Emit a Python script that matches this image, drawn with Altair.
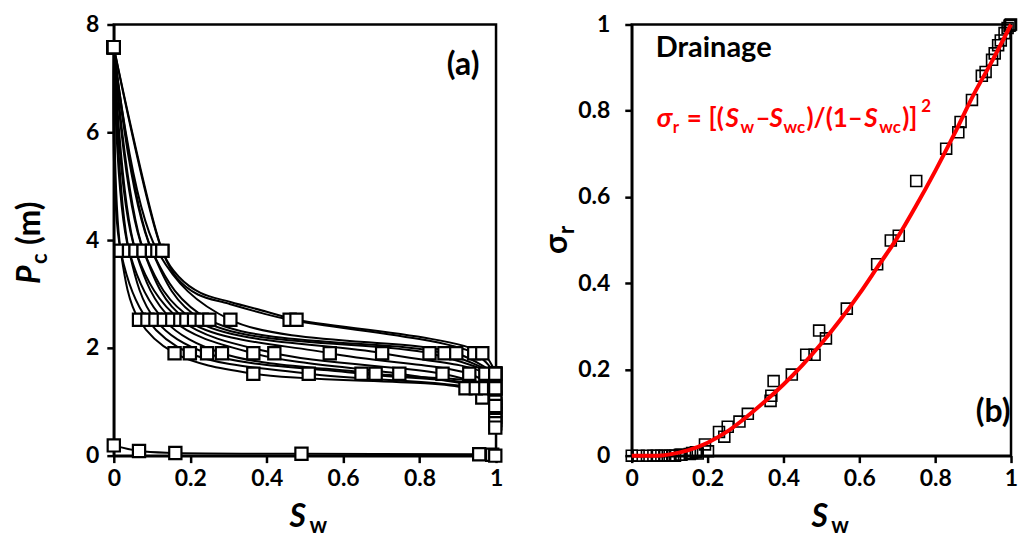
import altair as alt
import pandas as pd

FONT = "Lato"

# ---------------- Panel (a): capillary pressure curves ----------------
PC_TOP = 7.58
PC_LEVELS = [3.8, 2.52, 1.9, 1.52, 1.25]
SW_380 = [0.018, 0.018, 0.040, 0.040, 0.057, 0.057, 0.078, 0.078, 0.100, 0.100, 0.114, 0.127, 0.127]
SW_252 = [0.066, 0.088, 0.109, 0.131, 0.153, 0.174, 0.190, 0.210, 0.230, 0.250, 0.305, 0.460, 0.478]
SW_190 = [0.159, 0.199, 0.244, 0.283, 0.365, 0.420, 0.565, 0.702, 0.826, 0.865, 0.896, 0.943, 0.964]
SW_152 = [0.365, 0.510, 0.648, 0.685, 0.747, 0.860, 0.930, 0.972, 0.998, 0.998, 0.998, 0.998, 0.998]
SW_125 = [0.920, 0.947, 0.972, 0.995, 0.998, 0.998, 0.998, 0.998, None, None, None, None, None]

# line-only points (between 3.8 and 2.52)
MID12_SW = [0.165, 0.220, 0.300, 0.390]
MID12_PC = [3.30, 2.99, 2.82, 2.64]
MID13_SW = [0.170, 0.227, 0.305, 0.400]
MID13_PC = [3.32, 3.02, 2.85, 2.67]

# tail of the lowest curve (down the Sw = 1 edge)
TAIL1_SW = [0.964, 0.998, 0.998, 0.998, 0.998, 0.998, 0.998, 0.998, 0.998]
TAIL1_PC = [1.08, 0.96, 0.90, 0.84, 0.78, 0.72, 0.66, 0.60, 0.52]
# end points of curves 2-4
END_SW = [0.998, 0.998, 0.998]
END_PC = [1.08, 1.00, 0.92]

# bottom (near-zero pressure) curve
BOT_SW = [0.0, 0.066, 0.161, 0.491, 0.956, 0.990, 0.998]
BOT_PC = [0.19, 0.085, 0.05, 0.035, 0.025, 0.015, 0.0]

rows = []
for c in range(len(SW_380)):
    pts = [(0.0, PC_TOP, 1)]
    pts.append((SW_380[c], PC_LEVELS[0], 1))
    if c == 11:
        pts += [(s, p, 0) for s, p in zip(MID12_SW, MID12_PC)]
    if c == 12:
        pts += [(s, p, 0) for s, p in zip(MID13_SW, MID13_PC)]
    for lvl, arr in zip(PC_LEVELS[1:], [SW_252, SW_190, SW_152, SW_125]):
        if arr[c] is not None:
            pts.append((arr[c], lvl, 1))
    if c == 0:
        pts += [(s, p, 1) for s, p in zip(TAIL1_SW, TAIL1_PC)]
    elif 1 <= c <= 3:
        pts.append((END_SW[c - 1], END_PC[c - 1], 1))
    for i, (s, p, m) in enumerate(pts):
        rows.append({"curve": c, "idx": i, "sw": s, "pc": p, "m": m})
for i, (s, p) in enumerate(zip(BOT_SW, BOT_PC)):
    rows.append({"curve": 99, "idx": i, "sw": s, "pc": p, "m": 1})
df_a = pd.DataFrame(rows)

# ---------------- Panel (b): sigma_r vs Sw ----------------
SIG_SW = [0.0, 0.018, 0.04, 0.057, 0.066, 0.078, 0.088, 0.10, 0.109, 0.114,
          0.127, 0.131, 0.153, 0.159, 0.169, 0.174, 0.193, 0.201, 0.23, 0.244,
          0.253, 0.284, 0.306, 0.366, 0.368, 0.374, 0.422, 0.46, 0.482, 0.494,
          0.512, 0.567, 0.647, 0.683, 0.704, 0.75, 0.829, 0.861, 0.867, 0.897,
          0.923, 0.933, 0.95, 0.957, 0.966, 0.973, 0.983, 0.991, 0.996, 0.998, 1.0]
SIG_R = [0, 0, 0, 0, 0, 0, 0, 0, 0, 0,
         0.002, 0.002, 0.004, 0.006, 0.008, 0.005, 0.026, 0.01, 0.055, 0.044,
         0.067, 0.079, 0.097, 0.127, 0.139, 0.173, 0.188, 0.234, 0.234, 0.29,
         0.272, 0.341, 0.444, 0.499, 0.51, 0.637, 0.712, 0.75, 0.774, 0.825,
         0.881, 0.89, 0.918, 0.933, 0.952, 0.963, 0.98, 0.992, 0.997, 0.999, 1.0]
RED_SW = [0, 0.05, 0.08, 0.1, 0.15, 0.2, 0.25, 0.3, 0.35, 0.4, 0.45, 0.5, 0.55,
          0.6, 0.65, 0.7, 0.75, 0.8, 0.85, 0.9, 0.95, 1.0]
RED_SIG = [0, 0, 0.0005, 0.003, 0.013, 0.03, 0.055, 0.088, 0.125, 0.165, 0.21, 0.26,
           0.315, 0.375, 0.44, 0.505, 0.58, 0.66, 0.745, 0.835, 0.915, 1.0]

df_b = pd.DataFrame({"sw": SIG_SW, "sig": SIG_R})
df_red = pd.DataFrame({"sw": RED_SW, "sig": RED_SIG})

X_TICKS = [0, 0.2, 0.4, 0.6, 0.8, 1]
DUMMY = pd.DataFrame({"k": [0]})

W_A, W_B, H = 383, 380, 432


def txt(s, x, y, size, italic=False, color="black", angle=0, align="left",
        baseline="alphabetic"):
    kw = dict(text=s, font=FONT, fontSize=size, fontWeight="bold", color=color,
              align=align, baseline=baseline)
    if italic:
        kw["fontStyle"] = "italic"
    if angle:
        kw["angle"] = angle
    return alt.Chart(DUMMY).mark_text(**kw).encode(x=alt.value(x), y=alt.value(y))


xa = alt.X("sw:Q", scale=alt.Scale(domain=[0, 1], nice=False),
           axis=alt.Axis(values=X_TICKS, format="~g", title=None, labelPadding=5,
                         labelFlush=False, labelOverlap=False))
ya = alt.Y("pc:Q", scale=alt.Scale(domain=[0, 8], nice=False),
           axis=alt.Axis(values=[0, 2, 4, 6, 8], title=None, labelPadding=8,
                         labelOverlap=False))

lines_a = alt.Chart(df_a).mark_line(interpolate="catmull-rom", color="black",
                                    strokeWidth=2).encode(
    x=xa, y=ya, detail="curve:N", order="idx:Q")
pts_a = alt.Chart(df_a).transform_filter("datum.m == 1").mark_point(
    shape="square", filled=True, fill="white", stroke="black", strokeWidth=2.2,
    size=150, opacity=1).encode(x="sw:Q", y="pc:Q")

panel_a = alt.layer(
    lines_a, pts_a,
    txt("(a)", 350, 41, 32, align="center", baseline="middle"),
    txt("S", 176, 503, 32, italic=True),
    txt("w", 196, 510, 22),
    txt("P", -74, 260, 32, italic=True, angle=270),
    txt("c", -67, 240, 22, angle=270),
    txt("(m)", -74, 221, 32, angle=270),
).properties(width=W_A, height=H)

xb = alt.X("sw:Q", scale=alt.Scale(domain=[0, 1], nice=False),
           axis=alt.Axis(values=X_TICKS, format="~g", title=None, labelPadding=5,
                         labelFlush=False, labelOverlap=False))
yb = alt.Y("sig:Q", scale=alt.Scale(domain=[0, 1], nice=False),
           axis=alt.Axis(values=[0, 0.2, 0.4, 0.6, 0.8, 1], format="~g", title=None,
                         labelPadding=15, labelOverlap=False, labelFlush=False))

pts_b = alt.Chart(df_b).mark_point(shape="square", filled=False, color="black",
                                   strokeWidth=1.6, size=120, opacity=1).encode(x=xb, y=yb)
red_b = alt.Chart(df_red).mark_line(color="#ff0000", strokeWidth=4,
                                    interpolate="monotone").encode(x="sw:Q", y="sig:Q")
RED = "#ff0000"
panel_b = alt.layer(
    pts_b, red_b,
    txt("Drainage", 24, 33, 29),
    txt("σ", 25, 103, 27, italic=True, color=RED),
    txt("r", 41, 109, 17, color=RED),
    txt("=", 55, 103, 26, color=RED),
    txt("[(", 77, 103, 26, color=RED),
    txt("S", 94, 103, 26, italic=True, color=RED),
    txt("w", 109, 109, 17, color=RED),
    txt("–", 124, 103, 26, color=RED),
    txt("S", 138, 103, 26, italic=True, color=RED),
    txt("wc", 152, 109, 17, color=RED),
    txt(")/(1–", 175, 103, 26, color=RED),
    txt("S", 233, 103, 26, italic=True, color=RED),
    txt("wc", 248, 109, 17, color=RED),
    txt(")]", 271, 103, 26, color=RED),
    txt("2", 290, 88, 17, color=RED),
    txt("(b)", 362, 388, 32, align="center", baseline="middle"),
    txt("S", 180, 503, 32, italic=True),
    txt("w", 200, 510, 22),
    txt("σ", -65, 230, 32, angle=270),
    txt("r", -58, 210, 22, angle=270),
).properties(width=W_B, height=H)

chart = alt.hconcat(panel_a, panel_b, spacing=136, bounds="flush").properties(
    padding={"left": 4, "top": 3, "right": 0, "bottom": 0}
).configure_view(stroke="black", strokeWidth=2.5).configure_axis(
    domainColor="black", domainWidth=2.5, tickColor="black", tickWidth=2.5,
    tickSize=7, labelFont=FONT, labelFontSize=23, labelFontWeight="bold",
    labelColor="black", grid=False)

chart.save("out.html", embed_options={"renderer": "svg", "actions": False})
